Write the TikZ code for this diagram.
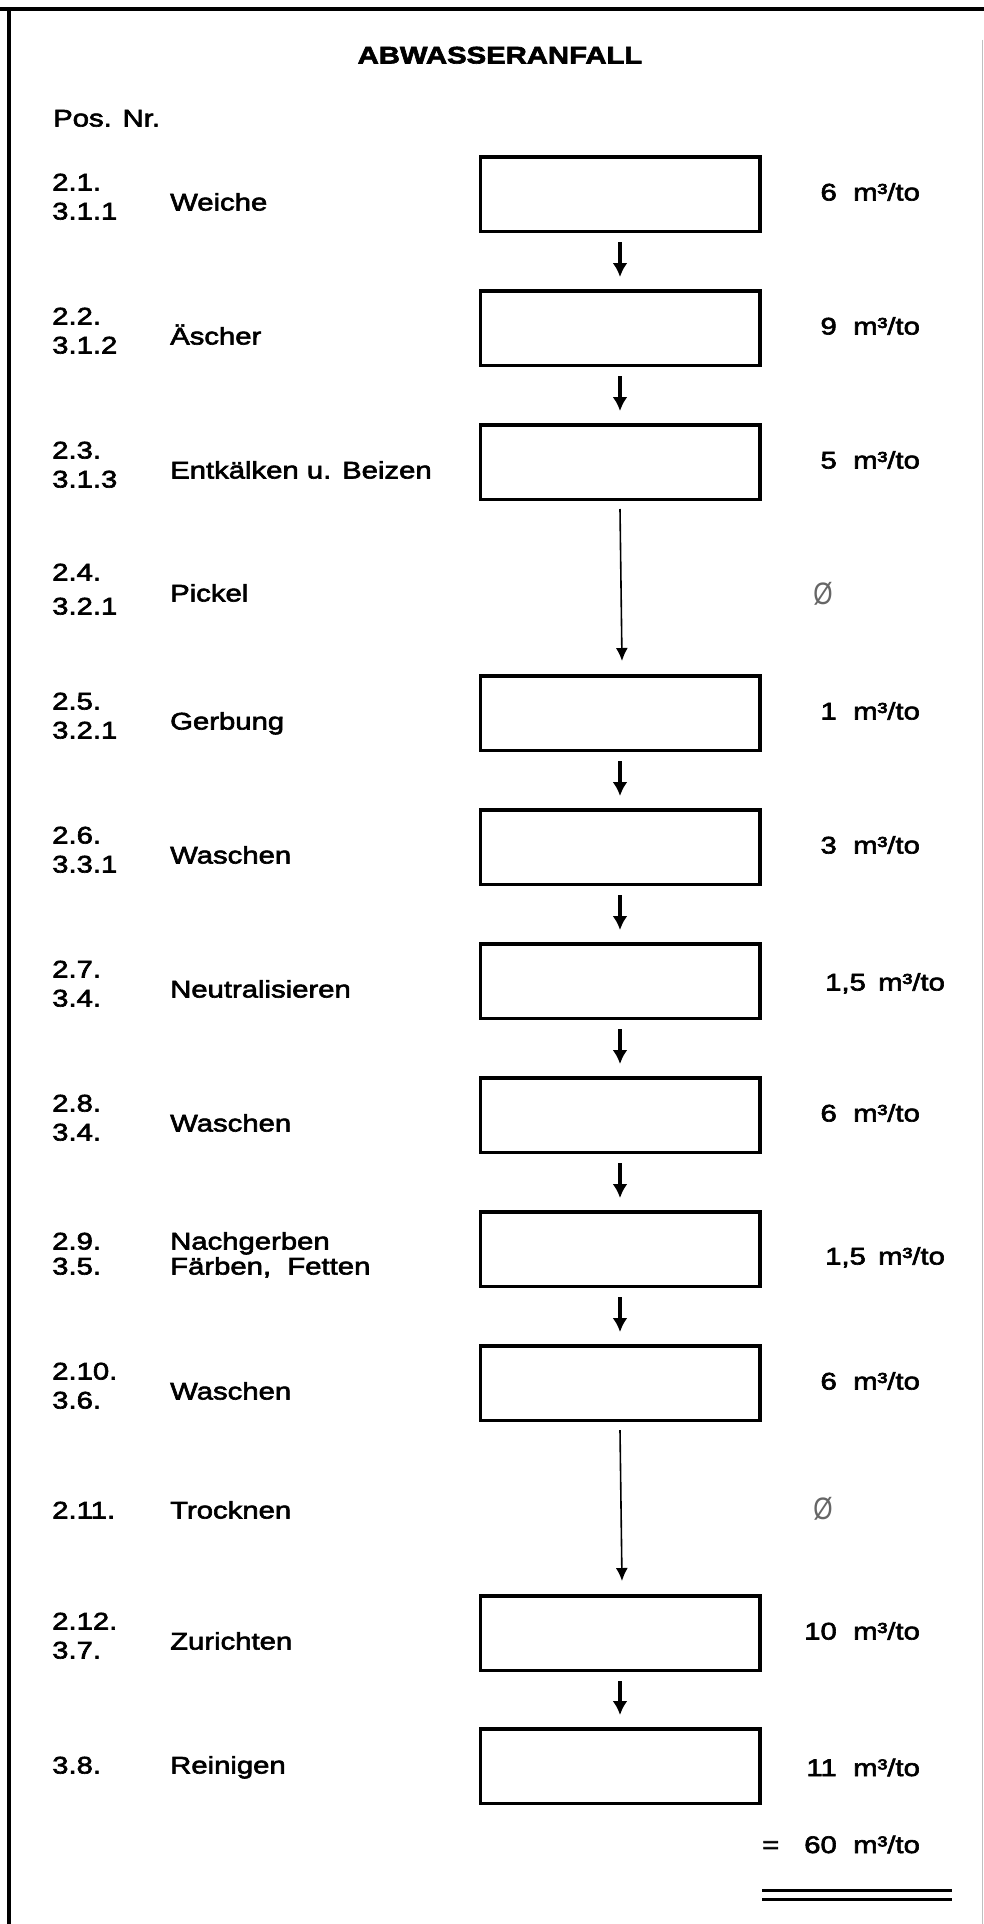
\documentclass[tikz,border=0pt]{standalone}
\usepackage{fontspec}
\usetikzlibrary{arrows.meta}
\setmainfont{Liberation Sans}
\newfontfamily\bodyfont{Liberation Sans}[FakeStretch=1.22,FakeBold=2.6]
\newfontfamily\symfont{Liberation Sans}[FakeStretch=0.8]
\tikzset{
  procbox/.style={draw, line width=3.5pt, minimum width=279.5pt, minimum height=74.5pt, inner sep=0pt},
  txt/.style={anchor=base west, inner sep=0pt, font=\bodyfont\fontsize{24}{28}\selectfont},
  num/.style={anchor=base east, inner sep=0pt, font=\bodyfont\fontsize{24}{28}\selectfont},
  ttl/.style={anchor=base, inner sep=0pt, font=\bodyfont\bfseries\fontsize{24}{28}\selectfont},
  nullsym/.style={anchor=center, inner sep=0pt, text=black!60, font=\symfont\fontsize{31}{34}\selectfont},
  smallarrow/.style={line width=3.5pt, -{Latex[length=14pt,width=15pt]}},
  longarrow/.style={line width=1.6pt, -{Latex[length=13pt,width=12pt]}},
  frameline/.style={line width=3.5pt},
  sumline/.style={line width=3pt}
}
% #1 id, #2 centre y, #3 pos line 1, #4 pos line 2, #5 name, #6 number
\newcommand\procrow[6]{%
  \node[procbox] (b#1) at (620,#2) {};
  \node[txt] (pa#1) at (52,#2-3.5) {#3};
  \node[txt] (pb#1) at (52,#2+25.5) {#4};
  \node[txt] (n#1) at (170,#2+16.5) {#5};
  \node[num] (v#1) at (837,#2+6.5) {#6};
  \node[txt] (u#1) at (853,#2+6.5) {m³/to};
}
\begin{document}
\begin{tikzpicture}[x=1pt,y=-1pt]
\useasboundingbox (0,0) rectangle (984,1924);
\fill[white] (0,0) rectangle (984,1924);
% frame
\coordinate (ftl) at (0,9);
\coordinate (ftr) at (984,9);
\coordinate (fl1) at (9,7.25);
\coordinate (fl2) at (9,1924);
\coordinate (fr1) at (982,40);
\coordinate (fr2) at (982,1924);
\draw[frameline] (ftl) -- (ftr);
\draw[frameline] (fl1) -- (fl2);
\draw[line width=1pt, black!25] (fr1) -- (fr2);

\node[ttl] (title) at (500,63.5) {ABWASSERANFALL};
\node[txt] (posnr) at (53,126.5) {Pos. Nr.};

\procrow{1}{194}{2.1.}{3.1.1}{Weiche}{6}
\procrow{2}{328}{2.2.}{3.1.2}{Äscher}{9}
\procrow{3}{462}{2.3.}{3.1.3}{Entkälken u. Beizen}{5}
\procrow{5}{713}{2.5.}{3.2.1}{Gerbung}{1}
\procrow{6}{847}{2.6.}{3.3.1}{Waschen}{3}
% row 7
\node[procbox] (b7) at (620,981) {};
\node[txt] (pa7) at (52,977.5) {2.7.};
\node[txt] (pb7) at (52,1006.5) {3.4.};
\node[txt] (n7) at (170,997.5) {Neutralisieren};
\node[txt] (v7) at (825,990.5) {1,5};
\node[txt] (u7) at (878,990.5) {m³/to};
\procrow{8}{1115}{2.8.}{3.4.}{Waschen}{6}
% row 9
\node[procbox] (b9) at (620,1249) {};
\node[txt] (pa9) at (52,1249.5) {2.9.};
\node[txt] (pb9) at (52,1274.5) {3.5.};
\node[txt] (n9a) at (170,1249.5) {Nachgerben};
\node[txt] (n9b) at (170,1274.5) {Färben, \ Fetten};
\node[txt] (v9) at (825,1264.5) {1,5};
\node[txt] (u9) at (878,1264.5) {m³/to};
\procrow{10}{1383}{2.10.}{3.6.}{Waschen}{6}
\procrow{11}{1633}{2.12.}{3.7.}{Zurichten}{10}
% row 12
\node[procbox] (b12) at (620,1766) {};
\node[txt] (pa12) at (52,1773.5) {3.8.};
\node[txt] (n12) at (170,1773.5) {Reinigen};
\node[num] (v12) at (837,1776) {11};
\node[txt] (u12) at (853,1776) {m³/to};

% rows without box
\node[txt] (pa4) at (52,580.5) {2.4.};
\node[txt] (pb4) at (52,614.5) {3.2.1};
\node[txt] (n4) at (170,601.5) {Pickel};
\node[nullsym] (z4) at (823,594) {Ø};
\node[txt] (pa11t) at (52,1518.5) {2.11.};
\node[txt] (n11t) at (170,1518.5) {Trocknen};
\node[nullsym] (z11t) at (823,1509) {Ø};

% arrows
\draw[smallarrow] ([yshift=-9pt]b1.south) -- ([yshift=12pt]b2.north);
\draw[smallarrow] ([yshift=-9pt]b2.south) -- ([yshift=12pt]b3.north);
\draw[longarrow] ([yshift=-8pt]b3.south) -- ([yshift=13pt,xshift=2pt]b5.north);
\draw[smallarrow] ([yshift=-9pt]b5.south) -- ([yshift=12pt]b6.north);
\draw[smallarrow] ([yshift=-9pt]b6.south) -- ([yshift=12pt]b7.north);
\draw[smallarrow] ([yshift=-9pt]b7.south) -- ([yshift=12pt]b8.north);
\draw[smallarrow] ([yshift=-9pt]b8.south) -- ([yshift=12pt]b9.north);
\draw[smallarrow] ([yshift=-9pt]b9.south) -- ([yshift=12pt]b10.north);
\draw[longarrow] ([yshift=-8pt]b10.south) -- ([yshift=13pt,xshift=2pt]b11.north);
\draw[smallarrow] ([yshift=-9pt]b11.south) -- ([yshift=12pt]b12.north);

% total
\node[txt] (eq) at (762,1853) {=};
\node[num] (vsum) at (837,1853) {60};
\node[txt] (usum) at (853,1853) {m³/to};
\coordinate (s1a) at (762,1890);
\coordinate (s1b) at (952,1890);
\coordinate (s2a) at (762,1899);
\coordinate (s2b) at (952,1899);
\draw[sumline] (s1a) -- (s1b);
\draw[sumline] (s2a) -- (s2b);
\end{tikzpicture}
\end{document}
